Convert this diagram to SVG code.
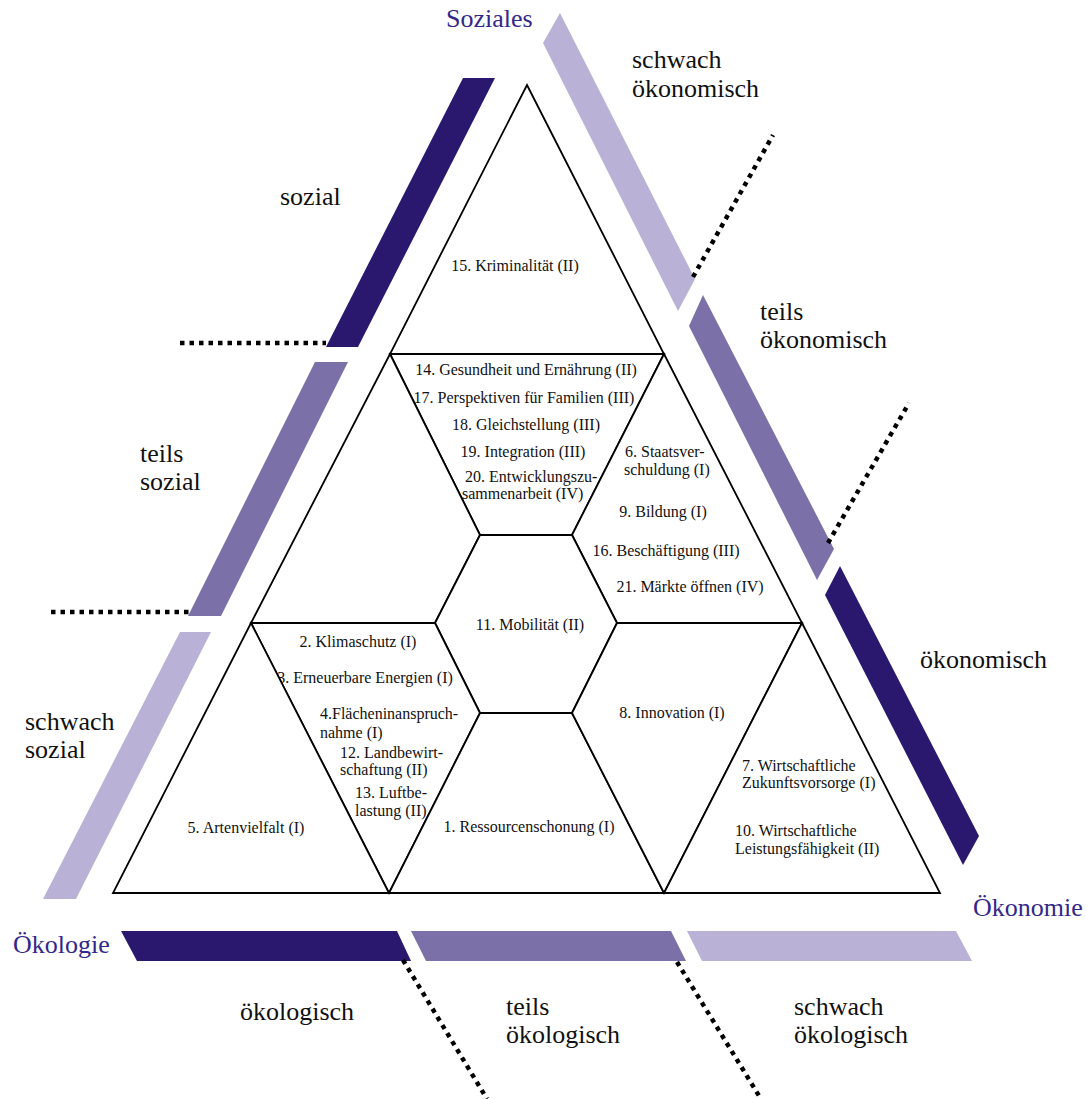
<svg xmlns="http://www.w3.org/2000/svg" width="1086" height="1099" viewBox="0 0 1086 1099" font-family="Liberation Serif, Times New Roman, serif">
<style>
.cell{fill:#fff;stroke:#000;stroke-width:1.8;stroke-linejoin:miter}
.t{font-size:16px;fill:#111}
.m{text-anchor:middle}
.lab{font-size:26px;fill:#111}
.dim{font-size:26px;fill:#33288a}
.dark{fill:#2a186e}
.mid{fill:#7b70a8}
.light{fill:#b9b2d6}
.dot{fill:none;stroke:#000;stroke-width:4.5;stroke-dasharray:4.5 5}
</style>
<rect width="1086" height="1099" fill="#fff"/>

<g id="bands">
  <polygon class="dark" points="463,78 495,78 358,347 326,347"/>
  <polygon class="mid" points="315,362 348,362 221,616 188,616"/>
  <polygon class="light" points="180,632 211,632 76,899 43,899"/>
  <polygon class="light" points="560,13 695,279 678,311 543,43"/>
  <polygon class="mid" points="703,295 834,549 817,580 689,326"/>
  <polygon class="dark" points="840,566 979,836 963,865 825,595"/>
  <polygon class="dark" points="121,931 397,931 411,961 137,961"/>
  <polygon class="mid" points="411,931 671,931 686,961 426,961"/>
  <polygon class="light" points="687,931 956,931 972,961 702,961"/>
</g>

<g id="connectors">
  <line class="dot" x1="180" y1="343" x2="326" y2="343"/>
  <line class="dot" x1="51" y1="612" x2="190" y2="612"/>
  <line class="dot" x1="693" y1="277" x2="773" y2="135"/>
  <line class="dot" x1="828" y1="543" x2="909" y2="403"/>
  <line class="dot" x1="403" y1="960" x2="487" y2="1099"/>
  <line class="dot" x1="677" y1="962" x2="761" y2="1099"/>
</g>

<g id="n15" font-family="Liberation Serif, serif">
  <polygon class="cell" points="527,85 664,354 390,354"/>
  <text class="t m" x="515" y="271">15. Kriminalität (II)</text>
</g>
<g id="nTopCenter" font-family="Liberation Serif, serif">
  <polygon class="cell" points="390,354 664,354 572,535 480,535"/>
  <text class="t m" x="526" y="375">14. Gesundheit und Ernährung (II)</text>
  <text class="t m" x="524" y="403">17. Perspektiven für Familien (III)</text>
  <text class="t m" x="526" y="430">18. Gleichstellung (III)</text>
  <text class="t m" x="523" y="457">19. Integration (III)</text>
  <text class="t" x="465" y="482">20. Entwicklungszu-</text>
  <text class="t" x="462" y="499">sammenarbeit (IV)</text>
</g>
<g id="nMidLeft">
  <polygon class="cell" points="390,354 480,535 435,623 251,623"/>
</g>
<g id="nMidRight" font-family="Liberation Serif, serif">
  <polygon class="cell" points="664,354 802,623 617,623 572,535"/>
  <text class="t" x="625" y="457">6. Staatsver-</text>
  <text class="t" x="624" y="475">schuldung (I)</text>
  <text class="t m" x="663" y="517">9. Bildung (I)</text>
  <text class="t m" x="666" y="556">16. Beschäftigung (III)</text>
  <text class="t m" x="690" y="592">21. Märkte öffnen (IV)</text>
</g>
<g id="n11" font-family="Liberation Serif, serif">
  <polygon class="cell" points="480,535 572,535 617,623 572,713 480,713 435,623"/>
  <text class="t m" x="530" y="630">11. Mobilität (II)</text>
</g>
<g id="nBottomLeftInv" font-family="Liberation Serif, serif">
  <polygon class="cell" points="251,623 435,623 480,713 389,893"/>
  <text class="t m" x="358" y="647">2. Klimaschutz (I)</text>
  <text class="t m" x="365" y="683">3. Erneuerbare Energien (I)</text>
  <text class="t" x="320" y="719">4.Flächeninanspruch-</text>
  <text class="t" x="320" y="738">nahme (I)</text>
  <text class="t" x="340" y="758">12. Landbewirt-</text>
  <text class="t" x="340" y="775">schaftung (II)</text>
  <text class="t" x="355" y="798">13. Luftbe-</text>
  <text class="t" x="355" y="816">lastung (II)</text>
</g>
<g id="n5" font-family="Liberation Serif, serif">
  <polygon class="cell" points="251,623 389,893 113,893"/>
  <text class="t m" x="246" y="833">5. Artenvielfalt (I)</text>
</g>
<g id="n1" font-family="Liberation Serif, serif">
  <polygon class="cell" points="480,713 572,713 664,893 389,893"/>
  <text class="t m" x="529" y="832">1. Ressourcenschonung (I)</text>
</g>
<g id="n8" font-family="Liberation Serif, serif">
  <polygon class="cell" points="617,623 802,623 664,893 572,713"/>
  <text class="t m" x="672" y="718">8. Innovation (I)</text>
</g>
<g id="nBottomRight" font-family="Liberation Serif, serif">
  <polygon class="cell" points="802,623 940,893 664,893"/>
  <text class="t" x="742" y="771">7. Wirtschaftliche</text>
  <text class="t" x="742" y="788">Zukunftsvorsorge (I)</text>
  <text class="t" x="735" y="836">10. Wirtschaftliche</text>
  <text class="t" x="735" y="854">Leistungsfähigkeit (II)</text>
</g>

<g id="labels" font-family="Liberation Serif, serif">
  <text class="dim" x="446" y="27">Soziales</text>
  <text class="dim" x="973" y="916">Ökonomie</text>
  <text class="dim" x="13" y="953">Ökologie</text>
  <text class="lab" x="632" y="68">schwach</text>
  <text class="lab" x="632" y="97">ökonomisch</text>
  <text class="lab" x="760" y="320">teils</text>
  <text class="lab" x="760" y="348">ökonomisch</text>
  <text class="lab" x="920" y="668">ökonomisch</text>
  <text class="lab" x="280" y="205">sozial</text>
  <text class="lab" x="140" y="462">teils</text>
  <text class="lab" x="140" y="490">sozial</text>
  <text class="lab" x="25" y="730">schwach</text>
  <text class="lab" x="25" y="758">sozial</text>
  <text class="lab" x="240" y="1020">ökologisch</text>
  <text class="lab" x="506" y="1015">teils</text>
  <text class="lab" x="506" y="1043">ökologisch</text>
  <text class="lab" x="794" y="1015">schwach</text>
  <text class="lab" x="794" y="1043">ökologisch</text>
</g>
</svg>
